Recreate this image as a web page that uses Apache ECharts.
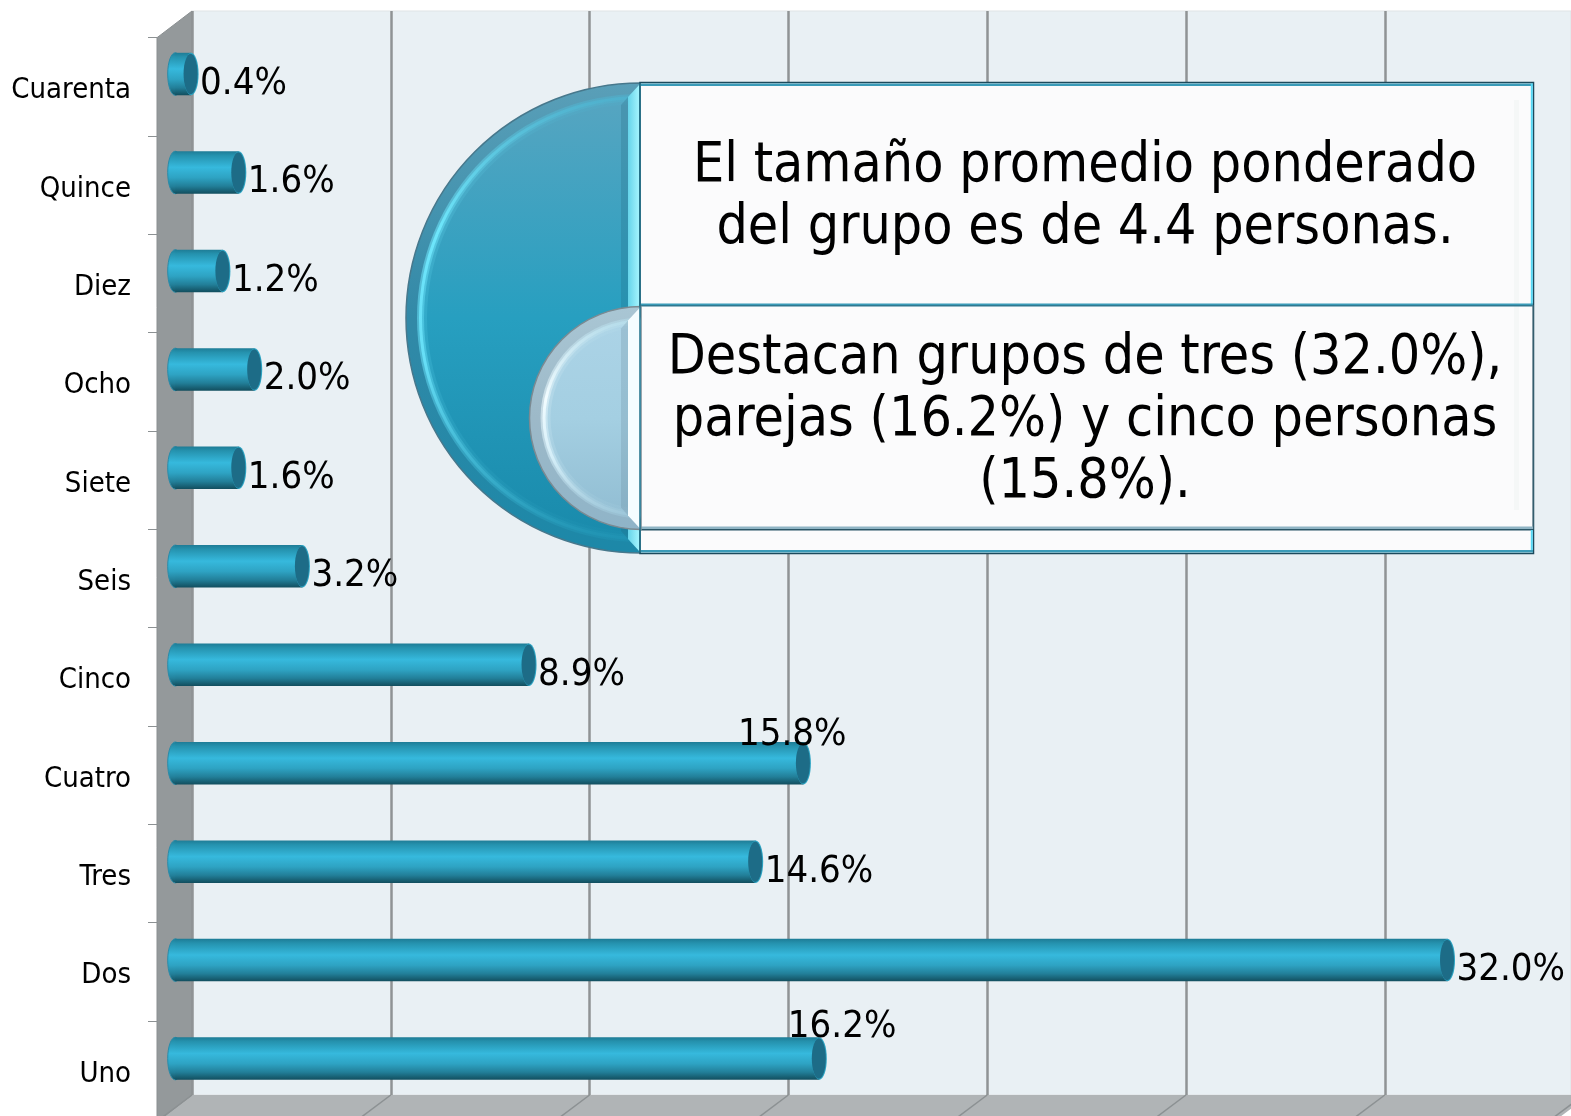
<!DOCTYPE html>
<html><head><meta charset="utf-8">
<style>html,body{margin:0;padding:0;background:#fff}#c{width:1571px;height:1116px}</style>
<script src="https://cdn.jsdelivr.net/npm/echarts@6/dist/echarts.min.js"></script>
</head><body><div id="c"></div>
<script>
const categories = ['Uno','Dos','Tres','Cuatro','Cinco','Seis','Siete','Ocho','Diez','Quince','Cuarenta'];
const values = [16.2,32.0,14.6,15.8,8.9,3.2,1.6,2.0,1.2,1.6,0.4];
const valueTicks = [0,5,10,15,20,25,30,35];
const note1 = ['El tamaño promedio ponderado','del grupo es de 4.4 personas.'];
const note2 = ['Destacan grupos de tres (32.0%),','parejas (16.2%) y cinco personas','(15.8%).'];

const FONT = '"DejaVu Sans Condensed","DejaVu Sans",sans-serif';
const labelNudge = {Cuatro:[-73,-28], Uno:[-39,-31]};
const lg = (x0,y0,x,y,stops)=>({type:'linear',x:x0,y:y0,x2:x,y2:y,
  colorStops:stops.map(s=>({offset:s[0],color:s[1]}))});

function semi(cx,cy,r,pal,z){
  const sector=(rr,fill,stroke,op)=>({type:'sector',z,silent:true,
    shape:{cx,cy,r:rr,r0:0,startAngle:Math.PI/2,endAngle:Math.PI*1.5,clockwise:true},
    style:{fill,stroke:stroke||null,lineWidth:stroke?1.5:0,opacity:op==null?1:op}});
  const t=cy-r,b=cy+r,bw=12;
  const body=lg(0,0,0,1,pal.body), ring=lg(0,0,0,1,pal.ring);
  return [
    sector(r,lg(0,0,0,1,pal.rim),pal.edge),
    sector(r-11,ring,null,.55),
    sector(r-13,ring),
    sector(r-16,body,null,.45),
    sector(r-18,body,null,.7),
    sector(r-21,body),
    {type:'polygon',z,silent:true,shape:{points:[[cx-bw-1,t+14],[cx-bw-1,b-14],[cx-bw-8,b-22],[cx-bw-8,t+22]]},style:{fill:pal.shade,opacity:.22}},
    {type:'polygon',z,silent:true,shape:{points:[[cx-1,t+1],[cx-1,b-1],[cx-bw-1,b-14],[cx-bw-1,t+14]]},style:{fill:pal.strip}}
  ];
}
const strip=(x,y,width,height,fill,z)=>({type:'rect',z:z||22,silent:true,shape:{x,y,width,height},style:{fill}});
const txt=(s,y)=>({type:'text',z:26,silent:true,style:{text:s,x:1085,y,align:'center',verticalAlign:'middle',
  font:'55px '+FONT,fill:'#000'}});

const graphic=[
  {type:'polygon',z:-5,silent:true,shape:{points:[[192,11],[1571,11],[1571,1095],[192,1095]]},style:{fill:'#e9f0f4',stroke:'#dfe3e5',lineWidth:1}},
  {type:'polygon',z:-4,silent:true,shape:{points:[[192,1095],[1590,1095],[1553,1122],[157,1122]]},style:{fill:'#b0b4b6'}},
  {type:'polygon',z:-4,silent:true,shape:{points:[[157,37.7],[192,11],[192,1095],[157,1122]]},style:{fill:'#94999b',stroke:'#8a8f91',lineWidth:1}},
  ...semi(641,318,235,{rim:[[0,'#5a9fb8'],[.5,'#3289a7'],[1,'#1c88a8']],edge:'#47788c',
    ring:[[0,'#4fb0cc'],[.3,'#6ee6fb'],[.6,'#66def6'],[1,'#1f92b2']],
    body:[[0,'#55a5c1'],[.5,'#279fc0'],[1,'#1a8bac']],shade:'#1f5f78',strip:lg(0,0,1,0,[[0,'#66d4ea'],[1,'#a8f6ff']])},20),
  {type:'rect',z:21,silent:true,shape:{x:640,y:82.5,width:893.5,height:471},style:{fill:'#fbfbfc',stroke:'#1c4a5c',lineWidth:1.5}},
  strip(1514,100,5,410,'#f5f7f7'),
  strip(641,83.5,892,2.5,'#3a9bb8'),
  strip(1530.8,83.5,2,221,'#55d8f5'),
  strip(641,303.5,892,1.5,'#3a9bb8'),
  strip(641,305,892,1.5,'#2f7890'),
  strip(1532.4,305,1,224,'#5a7a88'),
  strip(641,526.5,892,2.5,'#8fb4c4'),
  strip(641,529,892,1.5,'#2a5566'),
  strip(1530.8,530,2,22,'#55d8f5'),
  strip(641,550,892,2.5,'#3a9bb8'),
  ...semi(641,418,111.5,{rim:[[0,'#a9c6d4'],[.5,'#9db9c8'],[1,'#8fb4c8']],edge:'#7b8a92',
    ring:[[0,'#b5dcea'],[.4,'#f2fcff'],[.7,'#d4eef8'],[1,'#9cc6d9']],
    body:[[0,'#abd3e6'],[.5,'#a4cfe2'],[1,'#93bfd4']],shade:'#5e7f90',strip:'#f4fdff'},23),
  {type:'line',z:24,silent:true,shape:{x1:640,y1:83,x2:640,y2:553},style:{stroke:'#1d6f88',lineWidth:1.5}},
  txt(note1[0],167),txt(note1[1],229),
  txt(note2[0],359),txt(note2[1],421),txt(note2[2],483)
];

function renderFloor(params,api){
  const p=api.coord([api.value(0),0]);
  return {type:'line',silent:true,shape:{x1:p[0],y1:p[1],x2:p[0]-36,y2:p[1]+27},style:{stroke:'#8c9193',lineWidth:1.5}};
}
function renderBar(params,api){
  const i=api.value(0),v=api.value(1);
  const a=api.coord([0,i]),e=api.coord([v,i]);
  const h=42.5,rx=7.5,top=a[1]-h/2;
  const grad=lg(0,0,0,1,[[0,'#1e7c96'],[.1,'#2592ae'],[.38,'#36b9dd'],[.62,'#2ea3c3'],[.82,'#227f99'],[1,'#124e5e']]);
  const name=categories[i],n=labelNudge[name]||[1.5,10];
  return {type:'group',silent:true,children:[
    {type:'ellipse',shape:{cx:a[0],cy:a[1],rx,ry:h/2},style:{fill:grad,stroke:'#2b8ba8',lineWidth:1}},
    {type:'rect',shape:{x:a[0],y:top,width:e[0]-a[0],height:h},style:{fill:grad}},
    {type:'ellipse',shape:{cx:e[0],cy:e[1],rx,ry:h/2},style:{fill:'#2da4c3'}},
    {type:'ellipse',shape:{cx:e[0]-0.5,cy:e[1],rx:rx-0.5,ry:h/2-1},style:{fill:'#1d6c87'}},
    {type:'text',style:{text:v.toFixed(1)+'%',x:e[0]+rx+n[0],y:e[1]+n[1],align:'left',verticalAlign:'middle',font:'38px '+FONT,fill:'#000'}}
  ]};
}

const W=35*39.76;
const option={
  animation:false,backgroundColor:'#fff',graphic:{elements:graphic},
  grid:[
    {left:192,top:11,width:W,height:1084,outerBoundsMode:'none'},
    {left:157,top:37.7,width:W,height:1081.7,outerBoundsMode:'none'},
    {left:175.2,top:24.8,width:W,height:1083,outerBoundsMode:'none'},
    {left:157,top:41.7,width:W,height:1081.7,outerBoundsMode:'none'}
  ],
  xAxis:[
    {gridIndex:0,type:'value',min:0,max:35,interval:5,axisLabel:{show:false},axisTick:{show:false},axisLine:{show:false},
      splitLine:{show:true,lineStyle:{color:'#8f9395',width:2.5}}},
    {gridIndex:1,type:'value',min:0,max:35,show:false},
    {gridIndex:2,type:'value',min:0,max:35,show:false},
    {gridIndex:3,type:'value',min:0,max:35,show:false}
  ],
  yAxis:[
    {gridIndex:0,type:'value',min:0,max:1,show:false},
    {gridIndex:1,type:'category',data:categories,
      axisLine:{show:false},
      axisTick:{show:true,length:9,lineStyle:{color:'#8c9193',width:1}},
      axisLabel:{show:false}},
    {gridIndex:2,type:'category',data:categories,show:false},
    {gridIndex:3,type:'category',data:categories,
      axisLine:{show:false},axisTick:{show:false},
      axisLabel:{color:'#000',fontSize:29,fontFamily:FONT,margin:26}}
  ],
  series:[
    {type:'custom',xAxisIndex:0,yAxisIndex:0,z:1,clip:false,silent:true,renderItem:renderFloor,data:valueTicks.map(t=>[t])},
    {type:'custom',xAxisIndex:2,yAxisIndex:2,z:3,clip:false,silent:true,renderItem:renderBar,
      encode:{x:1,y:0},data:values.map((v,i)=>[i,v])}
  ]
};
echarts.init(document.getElementById('c'),null,{renderer:'canvas'}).setOption(option);
</script></body></html>
